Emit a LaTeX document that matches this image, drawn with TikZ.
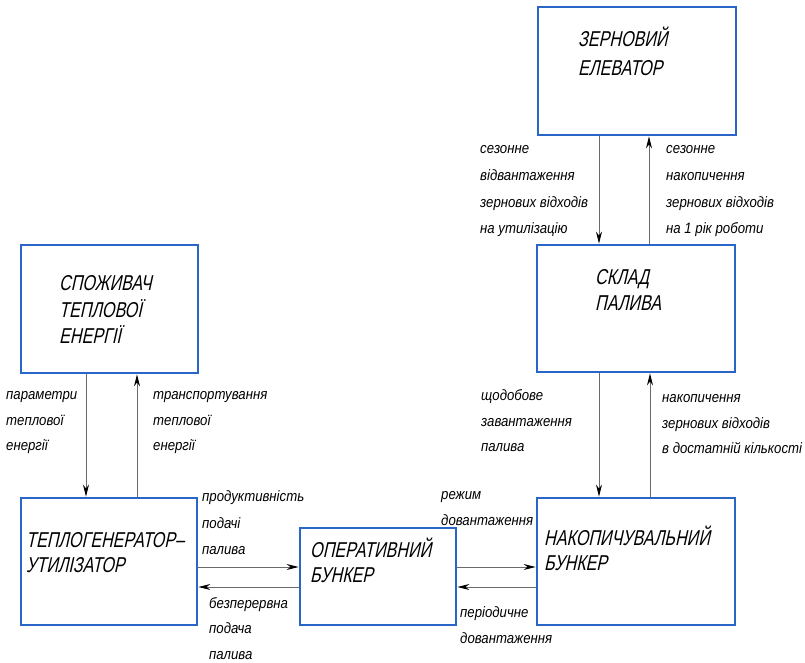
\documentclass[tikz,border=0pt]{standalone}
\usepackage{fontspec}
\usetikzlibrary{arrows.meta}
\newfontfamily\boxfont[FakeSlant=0.22,FakeStretch=0.75]{Liberation Sans}
\newfontfamily\lblfont[FakeStretch=0.88]{Liberation Sans}
\definecolor{boxblue}{HTML}{2A66C8}
\definecolor{conngray}{HTML}{6A6A6A}
\begin{document}
\begin{tikzpicture}[x=1pt,y=-1pt,
  box/.style={rectangle, draw=boxblue, line width=2.8pt, inner sep=0pt, fill=white},
  btxt/.style={font={\boxfont\fontsize{21.5}{26}\selectfont}, anchor=base west, inner sep=0pt, text=black},
  ltxt/.style={font={\lblfont\itshape\fontsize{15}{18}\selectfont}, anchor=base west, inner sep=0pt, text=black},
  conn/.style={draw=conngray, line width=0.9pt, -{Stealth[length=12pt,width=6pt,color=black]}}]
\useasboundingbox (0,0) rectangle (805,662);

% boxes
\node[box, minimum width=198pt, minimum height=128pt] (elev) at (637,71) {};
\node[box, minimum width=198pt, minimum height=127pt] (sklad) at (636,308.5) {};
\node[box, minimum width=198pt, minimum height=127pt] (nakop) at (636,561.5) {};
\node[box, minimum width=177pt, minimum height=128pt] (spozh) at (109.5,309) {};
\node[box, minimum width=176pt, minimum height=127pt] (teplo) at (109,561.5) {};
\node[box, minimum width=156pt, minimum height=97pt] (oper) at (378,576.5) {};

% box texts
\node[btxt] (elevA) at (578,46.5) {ЗЕРНОВИЙ};
\node[btxt] (elevB) at (578,75) {ЕЛЕВАТОР};
\node[btxt] (skladA) at (595,284) {СКЛАД};
\node[btxt] (skladB) at (595,310) {ПАЛИВА};
\node[btxt] (nakopA) at (544,545) {НАКОПИЧУВАЛЬНИЙ};
\node[btxt] (nakopB) at (544,570) {БУНКЕР};
\node[btxt] (spozhA) at (59,290) {СПОЖИВАЧ};
\node[btxt] (spozhB) at (59,317) {ТЕПЛОВОЇ};
\node[btxt] (spozhC) at (59,343) {ЕНЕРГІЇ};
\node[btxt] (teploA) at (26,547) {ТЕПЛОГЕНЕРАТОР–};
\node[btxt] (teploB) at (26,572) {УТИЛІЗАТОР};
\node[btxt] (operA) at (310,557) {ОПЕРАТИВНИЙ};
\node[btxt] (operB) at (310,582) {БУНКЕР};

% connectors
\draw[conn] ([xshift=-38pt]elev.south) -- ([xshift=-37pt]sklad.north);
\draw[conn] ([xshift=13pt]sklad.north) -- ([xshift=12pt]elev.south);
\draw[conn] ([xshift=-37pt]sklad.south) -- ([xshift=-37pt]nakop.north);
\draw[conn] ([xshift=14pt]nakop.north) -- ([xshift=14pt]sklad.south);
\draw[conn] ([xshift=-23.5pt]spozh.south) -- ([xshift=-23pt]teplo.north);
\draw[conn] ([xshift=28pt]teplo.north) -- ([xshift=27.5pt]spozh.south);
\draw[conn] ([yshift=-5.5pt]teplo.east) -- ([yshift=9.5pt]oper.west);
\draw[conn] ([yshift=-10.5pt]oper.west) -- ([yshift=-25.5pt]teplo.east);
\draw[conn] ([yshift=9.5pt]oper.east) -- ([yshift=-5.5pt]nakop.west);
\draw[conn] ([yshift=-25.5pt]nakop.west) -- ([yshift=-10.5pt]oper.east);

% labels: elevator <-> sklad
\node[ltxt] (l1a) at (480,153.5) {сезонне};
\node[ltxt] (l1b) at (480,180) {відвантаження};
\node[ltxt] (l1c) at (480,207) {зернових відходів};
\node[ltxt] (l1d) at (480,233) {на утилізацію};
\node[ltxt] (l2a) at (666,153.5) {сезонне};
\node[ltxt] (l2b) at (666,180) {накопичення};
\node[ltxt] (l2c) at (666,207) {зернових відходів};
\node[ltxt] (l2d) at (666,233) {на 1 рік роботи};
% sklad <-> nakop
\node[ltxt] (l3a) at (481,400) {щодобове};
\node[ltxt] (l3b) at (481,426) {завантаження};
\node[ltxt] (l3c) at (481,451) {палива};
\node[ltxt] (l4a) at (662,402) {накопичення};
\node[ltxt] (l4b) at (662,428) {зернових відходів};
\node[ltxt] (l4c) at (662,453) {в достатній кількості};
% spozh <-> teplo
\node[ltxt] (l5a) at (6,399) {параметри};
\node[ltxt] (l5b) at (6,425) {теплової};
\node[ltxt] (l5c) at (6,450) {енергії};
\node[ltxt] (l6a) at (153,399) {транспортування};
\node[ltxt] (l6b) at (153,425) {теплової};
\node[ltxt] (l6c) at (153,450) {енергії};
% teplo <-> oper
\node[ltxt] (l7a) at (202,501) {продуктивність};
\node[ltxt] (l7b) at (202,528) {подачі};
\node[ltxt] (l7c) at (202,554) {палива};
\node[ltxt] (l8a) at (209,608) {безперервна};
\node[ltxt] (l8b) at (209,633) {подача};
\node[ltxt] (l8c) at (209,659) {палива};
% oper <-> nakop
\node[ltxt] (l9a) at (441,499) {режим};
\node[ltxt] (l9b) at (441,525) {довантаження};
\node[ltxt] (l10a) at (460,617) {періодичне};
\node[ltxt] (l10b) at (460,643) {довантаження};
\end{tikzpicture}
\end{document}
